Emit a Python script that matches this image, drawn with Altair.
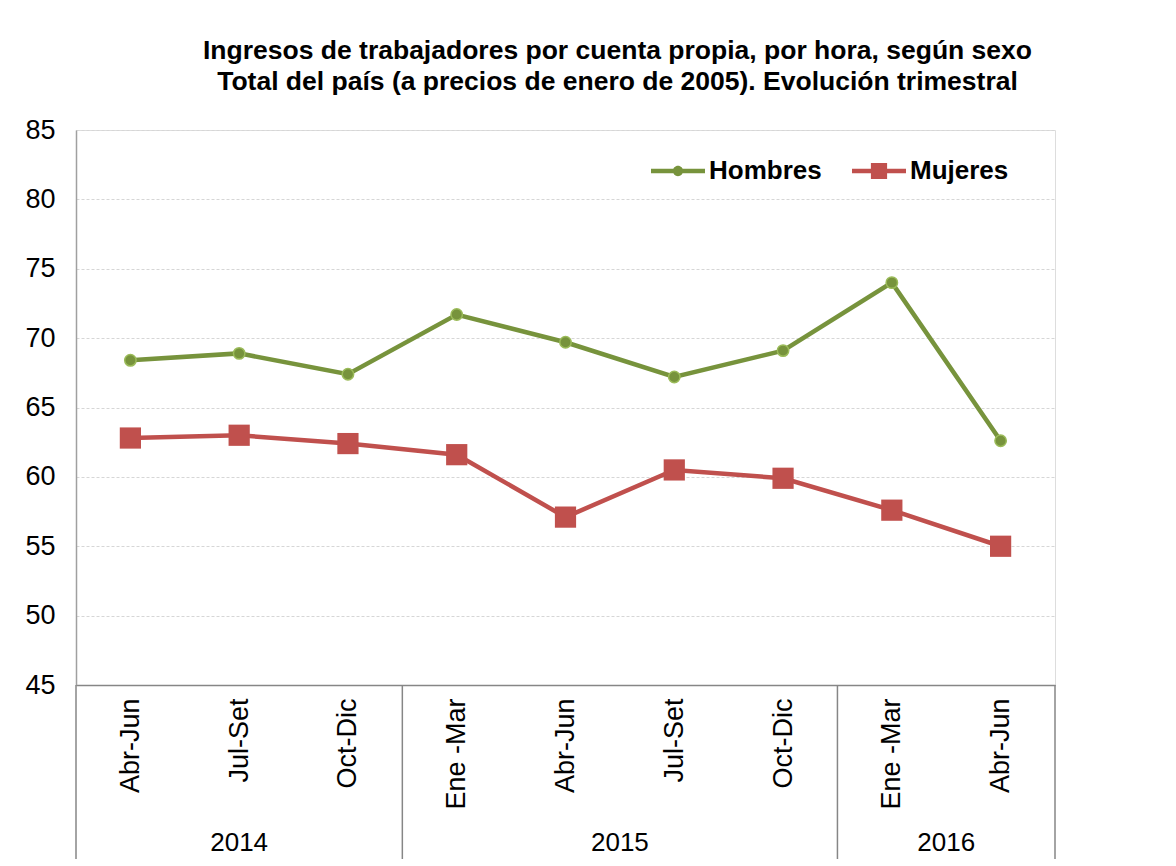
import altair as alt
import pandas as pd

# ---- data ----
quarters = ["Abr-Jun", "Jul-Set", "Oct-Dic", "Ene -Mar", "Abr-Jun", "Jul-Set", "Oct-Dic", "Ene -Mar", "Abr-Jun"]
years_of_q = ["2014", "2014", "2014", "2015", "2015", "2015", "2015", "2016", "2016"]
hombres = [68.4, 68.9, 67.4, 71.7, 69.7, 67.2, 69.1, 74.0, 62.6]
mujeres = [62.8, 63.0, 62.4, 61.6, 57.1, 60.5, 59.9, 57.6, 55.0]
series = ["Hombres", "Mujeres"]
colors = ["#77933C", "#C0504D"]
title_lines = [
    "Ingresos de trabajadores por cuenta propia, por hora, según sexo",
    "Total del país (a precios de enero de 2005). Evolución trimestral",
]

W, H = 979, 555
FONT = "Liberation Sans"

rows = []
for i, q in enumerate(quarters):
    rows.append({"idx": i, "q": q, "serie": "Hombres", "leg": "Hombres", "value": hombres[i]})
    rows.append({"idx": i, "q": q, "serie": "Mujeres", "leg": "Mujeres", "value": mujeres[i]})
df = pd.DataFrame(rows)

# year groups
year_list = []
for y in years_of_q:
    if y not in year_list:
        year_list.append(y)
yr_rows, sep_rows = [], [{"pos": -0.5}]
for y in year_list:
    ids = [i for i, yy in enumerate(years_of_q) if yy == y]
    yr_rows.append({"year": y, "center": (ids[0] + ids[-1]) / 2})
    sep_rows.append({"pos": ids[-1] + 0.5})
df_years = pd.DataFrame(yr_rows)
df_sep = pd.DataFrame(sep_rows)

label_expr = "[" + ",".join("'%s'" % q for q in quarters) + "][datum.value]"

xscale = alt.Scale(domain=[-0.5, len(quarters) - 0.5], nice=False, zero=False)
xaxis = alt.Axis(
    values=list(range(len(quarters))), labelExpr=label_expr, title=None,
    labelAngle=270, labelAlign="right", labelBaseline="middle", labelPadding=13,
    labelFontSize=27, labelFont=FONT, labelColor="#000000",
    ticks=False, grid=False, domainColor="#868686", domainWidth=1.5,
)
yaxis = alt.Axis(
    values=list(range(45, 90, 5)), title=None, labelFontSize=27, labelFont=FONT,
    labelColor="#000000", labelPadding=21, ticks=False,
    grid=True, gridColor="#D6D6D6", gridDash=[3, 2], gridWidth=1,
    domainColor="#A0A0A0", domainWidth=1.5,
)
color_scale = alt.Scale(domain=series, range=colors)

base = alt.Chart(df)

lines = base.mark_line(strokeWidth=4.5).encode(
    x=alt.X("idx:Q", scale=xscale, axis=xaxis),
    y=alt.Y("value:Q", scale=alt.Scale(domain=[45, 85], nice=False, zero=False), axis=yaxis),
    color=alt.Color("serie:N", scale=color_scale, legend=None),
    detail="serie:N",
)

pts_h = base.transform_filter(alt.datum.serie == "Hombres").mark_point(
    shape="circle", filled=True, size=130, opacity=1, stroke="#9BBB59", strokeWidth=1.5
).encode(x="idx:Q", y="value:Q", color=alt.Color("serie:N", scale=color_scale, legend=None))

pts_m = base.transform_filter(alt.datum.serie == "Mujeres").mark_point(
    shape="square", filled=True, size=450, opacity=1
).encode(x="idx:Q", y="value:Q", color=alt.Color("serie:N", scale=color_scale, legend=None))

path_h = ("M-1,-0.08H-0.16V0.08H-1Z M0.16,-0.08H1V0.08H0.16Z "
          "M-0.19,0A0.19,0.19 0 1,1 0.19,0A0.19,0.19 0 1,1 -0.19,0Z")
path_m = ("M-1,-0.08H-0.3V0.08H-1Z M0.3,-0.08H1V0.08H0.3Z "
          "M-0.3,-0.3H0.3V0.3H-0.3Z")

legend = alt.Legend(
    title=None, orient="none", direction="horizontal", legendX=575, legendY=14,
    labelFont=FONT, labelFontSize=26, labelFontWeight="bold", labelColor="#000000",
    symbolSize=2916, symbolStrokeWidth=0, labelOffset=4, columnPadding=30, padding=0,
    labelBaseline="middle",
)
legend_layer = base.mark_point(filled=True, opacity=1, size=0).encode(
    x="idx:Q", y="value:Q",
    color=alt.Color("leg:N", scale=alt.Scale(domain=series, range=colors), legend=legend),
    shape=alt.Shape("leg:N", scale=alt.Scale(domain=series, range=[path_h, path_m]), legend=legend),
)

seps = alt.Chart(df_sep).mark_rule(color="#868686", strokeWidth=1.5).encode(
    x=alt.X("pos:Q", scale=xscale), y=alt.value(H), y2=alt.value(H + 174)
)
year_text = alt.Chart(df_years).mark_text(
    font=FONT, fontSize=26, color="#000000", baseline="middle", align="center"
).encode(x=alt.X("center:Q", scale=xscale), y=alt.value(H + 158), text="year:N")

chart = alt.layer(lines, pts_h, pts_m, legend_layer, seps, year_text).resolve_scale(
    color="independent", shape="independent"
).properties(
    width=W, height=H,
    title=alt.TitleParams(
        text=title_lines, font=FONT, fontSize=26.5, fontWeight="bold", color="#000000",
        lineHeight=31, anchor="middle", dx=52, offset=21,
    ),
    padding={"left": 16, "top": 29, "right": 10, "bottom": 5},
).configure_view(stroke="#C8C8C8", strokeWidth=1.5).configure(background="white")

chart.save("out.html", embed_options={"renderer": "svg", "actions": False})
